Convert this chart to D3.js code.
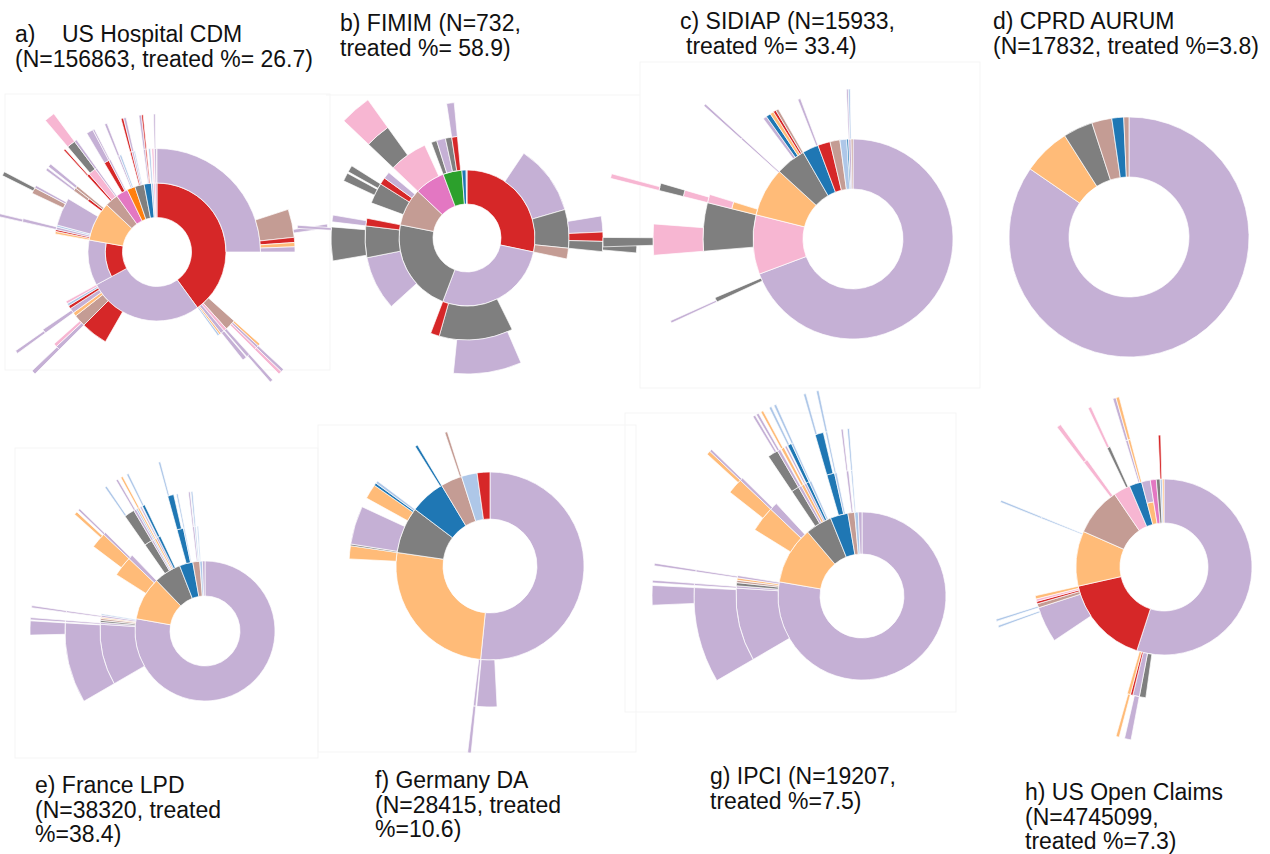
<!DOCTYPE html>
<html>
<head>
<meta charset="utf-8">
<script src="https://cdn.jsdelivr.net/npm/d3@7"></script>
<style>
  body { margin: 0; background: #fff; }
  svg { display: block; }
  .title { font-family: "Liberation Sans", Arial, Helvetica, sans-serif; font-size: 23px; fill: #111; }
</style>
</head>
<body>
<svg id="fig" width="1270" height="854"></svg>
<script>
// Treatment codes -> colours. "_" marks the share of patients whose pathway stops (not drawn).
// A code such as "R+L" is a combination therapy, drawn as radial bands inside one arc.
const treatmentColors = {
  L: "#c5b0d5", R: "#d62728", G: "#7f7f7f", P: "#ffbb78", K: "#f7b6d2",
  B: "#c49c94", U: "#1f77b4", S: "#aec7e8", O: "#e377c2", N: "#2ca02c", A: "#ff7f0e"
};

// Pathway trees: [code, % of patients, [next-line children]]
const usHospitalCdm = [
  ["R", 40.0, [
    ["L", 25.0, [["_", 20.0], ["B", 3.3, [["_", 2.4], ["L", 0.4]]], ["R", 0.6], ["P", 0.5], ["L", 0.6]]],
    ["_", 11.6],
    ["B", 1.7, [["P", 0.3], ["L", 0.3, [["L", 0.3]]], ["K", 0.3, [["K", 0.3]]]]],
    ["K", 0.5, [["L", 0.4, [["L", 0.3]]]]],
    ["L", 0.6, [["L", 0.5]]],
    ["P", 0.3],
    ["S", 0.3]
  ]],
  ["L", 27.1, [["_", 18.3], ["R", 4.2], ["B", 1.9, [["L", 0.5, [["L", 0.4]]], ["K", 0.4]]], ["P", 0.6],
    ["L", 0.8, [["L", 0.5, [["L", 0.3]]]]], ["R", 0.5], ["S", 0.4], ["K", 0.4]]],
  ["R+L", 10.7],
  ["P", 9.2, [["P", 0.4], ["R", 0.3], ["L", 0.4, [["L", 0.4, [["L", 0.3]]]]], ["S", 0.3],
    ["L", 4.4, [["_", 2.8], ["B", 0.7, [["_", 0.3], ["G", 0.4]]], ["L", 0.3]]], ["_", 1.5],
    ["R+B", 0.5, [["L", 0.3]]], ["B", 0.4, [["L", 0.4]]]]],
  ["B", 3.1, [["_", 1.2], ["R", 0.4, [["R", 0.2]]], ["K", 1.2, [["_", 0.2], ["G", 1.0, [["K", 1.0]]]]], ["L", 0.3, [["L", 0.3]]]]],
  ["O", 2.8, [["_", 1.4], ["R", 0.8, [["L", 0.8]]], ["L", 0.3, [["L", 0.2]]]]],
  ["A", 1.9, [["_", 0.9], ["L", 0.3, [["L", 0.3]]], ["S", 0.3]]],
  ["G", 2.2, [["_", 1.0], ["R", 0.3, [["R", 0.3]]], ["L", 0.3, [["L", 0.3]]], ["S", 0.2]]],
  ["U", 1.7, [["_", 0.9], ["L", 0.3, [["L", 0.3]]], ["R", 0.2, [["R", 0.2]]]]],
  ["S", 0.5, [["S", 0.3]]],
  ["K", 0.4, [["K", 0.3]]],
  ["L", 0.4, [["L", 0.3, [["L", 0.2]]]]]
];

const fimim = [
  ["R", 28.3, [["_", 9.4], ["L", 11.1], ["G", 6.1, [["_", 1.9], ["L", 1.9], ["R", 1.1], ["G", 1.2, [["G", 1.0]]]]], ["B", 1.7]]],
  ["L", 27.5, [["_", 14.4], ["G", 11.7, [["_", 0.8], ["L", 8.1]]], ["R", 1.4]]],
  ["G", 22.3, [["_", 7.5], ["L", 8.6], ["G", 5.0, [["_", 0.4], ["G", 4.0, [["_", 3.6], ["L", 0.3]]]]], ["R", 1.2, [["L", 0.8]]]]],
  ["B", 9.0, [["_", 2.5], ["G", 3.3, [["_", 1.3], ["G", 1.0], ["_", 0.2], ["G", 0.8]]], ["R", 1.1], ["L", 1.1]]],
  ["O", 7.2, [["K", 6.1, [["G", 3.0, [["K", 3.0]]]]]]],
  ["N", 4.5, [["G", 0.9], ["L", 1.4], ["G", 1.0], ["R", 0.9, [["L", 0.9]]]]],
  ["U", 1.0],
  ["S", 0.2]
];

const sidiap = [
  ["L", 69.3, [["_", 68.1], ["G", 0.5, [["L", 0.2]]]]],
  ["K", 9.6, [["_", 4.4], ["G", 5.2, [["K", 2.5, [["_", 0.8], ["G", 0.6]]]]]]],
  ["P", 7.9, [["P+K", 0.9, [["K+G", 0.6, [["K", 0.3]]]]], ["_", 6.8], ["L", 0.2, [["L", 0.2]]]]],
  ["G", 4.9, [["_", 3.0], ["L", 0.4], ["U", 0.5], ["P", 0.4], ["R", 0.3], ["B", 0.3]]],
  ["U", 2.6, [["_", 2.3], ["L", 0.3]]],
  ["R", 2.0],
  ["B", 1.6],
  ["S", 1.1],
  ["U", 0.3],
  ["L", 0.4, [["L", 0.2], ["S", 0.2]]],
  ["B", 0.3]
];

const cprdAurum = [
  ["L", 84.6], ["P", 6.4], ["G", 4.0], ["B", 2.7], ["U", 1.6], ["B", 0.7]
];

const franceLpd = [
  ["L", 77.9, [["_", 66.7], ["L", 9.4, [["L", 9.3, [["_", 8.0], ["L", 1.3]]]]], ["L", 0.3, [["L", 0.2, [["L", 0.2]]]]],
    ["G", 0.3], ["B", 0.3], ["P", 0.2], ["L", 0.3, [["L", 0.2, [["L", 0.2]]]]], ["S", 0.2]]],
  ["P", 10.0, [["_", 6.2], ["P", 3.1, [["_", 1.3], ["P", 1.8, [["_", 1.3], ["P", 0.3]]]]], ["L", 0.7, [["L", 0.3, [["L", 0.2]]]]]]],
  ["G", 6.3, [["_", 2.5], ["G", 1.2, [["G", 1.2, [["S", 0.2]]]]], ["L", 0.3, [["L", 0.3, [["L", 0.2]]]]], ["S", 0.2, [["S", 0.2]]],
    ["P", 0.3, [["P", 0.2, [["P", 0.2]]]]], ["L", 0.3, [["L", 0.2]]], ["U", 0.4, [["U", 0.3, [["S", 0.2]]]]]]],
  ["U", 3.1, [["_", 1.6], ["U", 1.0, [["U", 0.7, [["S", 0.2]]]]], ["S", 0.2, [["S", 0.2]]]]],
  ["B", 1.6, [["_", 0.9], ["L", 0.3, [["L", 0.2]]], ["S", 0.2, [["S", 0.2]]]]],
  ["S", 0.6, [["S", 0.2]]],
  ["L", 0.6]
];

const germanyDa = [
  ["L", 51.6, [["_", 49.2], ["L", 2.3]]],
  ["P", 25.7, [["L", 0.3, [["L", 0.3]]], ["_", 23.9], ["P", 1.5]]],
  ["G", 8.0, [["G", 0.2], ["L", 4.4], ["_", 1.1], ["P", 1.7], ["U", 0.3], ["S", 0.3]]],
  ["U", 6.1, [["_", 5.8], ["U", 0.3]]],
  ["B", 3.7, [["_", 3.4], ["B", 0.3]]],
  ["S", 2.7],
  ["R", 2.2]
];

const ipci = [
  ["L", 77.7, [["_", 66.6], ["L", 9.4, [["L", 9.2, [["_", 7.7], ["L", 1.5]]]]], ["L", 0.3, [["L", 0.2, [["L", 0.2]]]]],
    ["G", 0.4], ["B", 0.3], ["P", 0.3], ["L", 0.3, [["L", 0.2, [["L", 0.2]]]]]]],
  ["P", 11.1, [["_", 6.1], ["P", 3.3, [["_", 1.8], ["P", 1.5, [["_", 1.2], ["P", 0.3]]]]], ["L", 1.0, [["L", 0.3, [["L", 0.2]]]]]]],
  ["G", 5.1, [["_", 1.8], ["G", 1.0, [["G", 1.0, [["_", 0.7], ["L", 0.2]]]]], ["L", 0.4, [["L", 0.3, [["L", 0.2]]]]],
    ["P", 0.4, [["P", 0.3, [["P", 0.2]]]]], ["L", 0.3, [["L", 0.2]]],
    ["U", 0.4, [["U", 0.4, [["S", 0.2]]]]], ["S", 0.3, [["S", 0.2, [["S", 0.2]]]]]]],
  ["U", 3.4, [["_", 1.6], ["U", 1.0, [["U", 0.8, [["S", 0.2]]]]], ["S", 0.3, [["S", 0.2, [["S", 0.2]]]]]]],
  ["B", 1.3, [["_", 0.7], ["L", 0.3, [["L", 0.2]]]]],
  ["S", 0.7, [["S", 0.2, [["S", 0.2]]]]],
  ["L", 0.7]
];

const usOpenClaims = [
  ["L", 55.0, [["_", 52.2], ["G", 0.8], ["L", 0.8, [["L", 0.6]]], ["R", 0.3], ["P", 0.4, [["P", 0.3]]]]],
  ["R", 16.5, [["_", 10.6], ["L", 4.4, [["_", 3.8], ["S", 0.2]]], ["B", 0.5, [["S", 0.2]]], ["R", 0.3], ["K", 0.3], ["P", 0.4]]],
  ["P", 10.1, [["_", 9.5], ["S", 0.2, [["S", 0.2]]]]],
  ["B", 8.9, [["_", 8.0], ["K", 0.5, [["K", 0.4]]]]],
  ["K", 3.1, [["_", 2.4], ["G", 0.4, [["K", 0.3]]]]],
  ["U", 2.3, [["_", 1.7], ["L", 0.3, [["L", 0.3]]], ["P", 0.3, [["P", 0.3]]]]],
  ["P+L", 1.6],
  ["O", 1.1],
  ["G", 0.7],
  ["S", 0.4, [["R", 0.3]]],
  ["P", 0.3]
];

// Panel captions
const captions = [
  [["a)", "US Hospital CDM"], ["(N=156863, treated %= 26.7)"]],
  [["b) FIMIM (N=732,"], ["treated %= 58.9)"]],
  [["c) SIDIAP (N=15933,"], [" treated %= 33.4)"]],
  [["d) CPRD AURUM"], ["(N=17832, treated %=3.8)"]],
  [["e) France LPD"], ["(N=38320, treated"], ["%=38.4)"]],
  [["f) Germany DA"], ["(N=28415, treated"], ["%=10.6)"]],
  [["g) IPCI (N=19207,"], ["treated %=7.5)"]],
  [["h) US Open Claims"], ["(N=4745099,"], ["treated %=7.3)"]]
];

// Layout of the eight panels: sunburst centre, ring width, caption anchor, frame
const panels = [
  { data: usHospitalCdm, cx: 157, cy: 252, ring: 34.5, tx: 15,   ty: 42,  frame: [5, 94, 325, 276] },
  { data: fimim,         cx: 467, cy: 238, ring: 34,   tx: 340,  ty: 31,  frame: [326, 95, 314, 0] },
  { data: sidiap,        cx: 853, cy: 239, ring: 50,   tx: 680,  ty: 29,  frame: [640, 62, 340, 326] },
  { data: cprdAurum,     cx: 1129, cy: 237, ring: 60,  tx: 993,  ty: 29,  frame: null },
  { data: franceLpd,     cx: 205, cy: 631, ring: 35,   tx: 35,   ty: 793, frame: [15, 448, 303, 310] },
  { data: germanyDa,     cx: 490, cy: 566, ring: 47,   tx: 375,  ty: 788, frame: [318, 425, 318, 327] },
  { data: ipci,          cx: 862, cy: 596, ring: 42,   tx: 710,  ty: 784, frame: [625, 413, 331, 299] },
  { data: usOpenClaims,  cx: 1164, cy: 567, ring: 44,  tx: 1025, ty: 800, frame: null }
];

const svg = d3.select("#fig");

// Convert compact tuples into a hierarchy; any unassigned share of a parent becomes a trailing stop node.
function toNode(t) {
  const [code, value, kids] = t;
  if (!kids) return { code, value };
  const children = kids.map(toNode);
  const used = d3.sum(children, total);
  if (value - used > 0.001) children.push({ code: "_", value: value - used });
  return { code, children };
}
function total(n) { return n.children ? d3.sum(n.children, total) : n.value; }

// faint frames behind some panels
panels.forEach(p => {
  if (!p.frame) return;
  const [x, y, w, h] = p.frame;
  if (h > 0) {
    svg.append("rect").attr("x", x).attr("y", y).attr("width", w).attr("height", h)
      .attr("fill", "none").attr("stroke", "#f5f5f5").attr("stroke-width", 1);
  } else {
    svg.append("line").attr("x1", x).attr("x2", x + w).attr("y1", y).attr("y2", y)
      .attr("stroke", "#f5f5f5").attr("stroke-width", 1);
  }
});

panels.forEach((p, i) => {
  const root = d3.hierarchy({ code: "root", children: p.data.map(toNode) })
    .sum(d => d.children ? 0 : d.value);
  d3.partition().size([2 * Math.PI, root.height + 1])(root);

  const radius = d3.scaleLinear().domain([0, 1]).range([0, p.ring]);
  const arc = d3.arc()
    .startAngle(d => d.x0).endAngle(d => d.x1)
    .innerRadius(d => d.r0).outerRadius(d => d.r1);

  const visible = root.descendants().filter(d => d.depth > 0 && !d.ancestors().some(a => a.data.code === "_"));

  // one band per drug of a (combination) treatment, inner to outer
  const bands = [];
  visible.forEach(d => {
    const codes = d.data.code.split("+");
    const step = (d.y1 - d.y0) / codes.length;
    codes.forEach((c, k) => {
      bands.push({ x0: d.x0, x1: d.x1, r0: radius(d.y0 + k * step), r1: radius(d.y0 + (k + 1) * step), code: c });
    });
  });

  const g = svg.append("g").attr("transform", `translate(${p.cx},${p.cy})`);
  g.selectAll("path").data(bands).join("path")
    .attr("d", arc)
    .attr("fill", d => treatmentColors[d.code])
    .attr("stroke", "#fff")
    .attr("stroke-width", 0.7);

  // caption
  const t = svg.append("text").attr("class", "title").attr("x", p.tx).attr("y", p.ty);
  captions[i].forEach((line, k) => {
    line.forEach((part, j) => {
      t.append("tspan")
        .attr("x", j === 0 ? p.tx + (part.startsWith(" ") ? 6 : 0) : p.tx + 47)
        .attr("y", p.ty + k * 24.5)
        .text(part.trim());
    });
  });
});
</script>
</body>
</html>
